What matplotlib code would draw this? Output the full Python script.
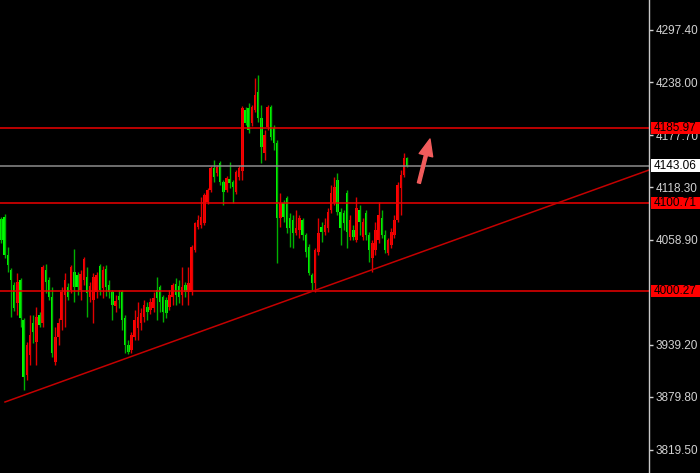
import numpy as np
import matplotlib
matplotlib.use("Agg")
import matplotlib.pyplot as plt
import matplotlib.transforms as mtransforms
from matplotlib.patches import Rectangle

# OHLC (red = up bar, green = down bar)
opens = [4082.3, 4084.6, 4041.3, 4024.2, 4007.2, 3986.7, 4012.9, 3967.3, 3904.7, 3927.5,
         3963.9, 3942.3, 3973.0, 3963.9, 4024.2, 4012.9, 3993.5, 3919.5, 3948.0, 3967.3,
         3995.8, 4004.9, 4001.5, 4022.0, 4018.5, 4001.5, 4012.9, 4016.3, 3993.5, 3990.1,
         3999.2, 4028.8, 4003.8, 4025.4, 4007.2, 3999.2, 3983.3, 3994.7, 3999.2, 3969.6,
         3938.9, 3933.2, 3948.0, 3958.2, 3963.9, 3970.8, 3982.1, 3978.7, 3981.0, 4001.5,
         4004.9, 3993.5, 3990.1, 3982.1, 3993.5, 4008.3, 4006.0, 3995.8, 4007.2, 3999.2,
         3999.2, 4047.0, 4073.2, 4075.4, 4077.7, 4101.6, 4115.3, 4140.3, 4134.6, 4146.0,
         4124.4, 4115.3, 4127.8, 4124.4, 4113.0, 4130.1, 4136.9, 4206.3, 4208.6, 4191.5,
         4206.3, 4226.8, 4197.2, 4157.4, 4187.0, 4209.7, 4185.8, 4168.8, 4083.4, 4100.5,
         4106.2, 4083.4, 4081.1, 4066.3, 4069.8, 4081.1, 4064.1, 4050.4, 4018.5, 4009.4,
         4044.7, 4073.2, 4067.5, 4072.0, 4092.5, 4100.5, 4126.7, 4090.2, 4089.1, 4111.9,
         4061.8, 4069.8, 4058.4, 4092.5, 4061.8, 4089.1, 4064.1, 4037.9, 4047.0, 4058.4,
         4083.4, 4064.1, 4043.6, 4052.7, 4064.1, 4081.1, 4117.6, 4132.3, 4151.7]
highs = [4084.6, 4088.0, 4050.4, 4026.5, 4010.6, 4020.8, 4015.1, 3969.6, 3942.3, 3973.0,
         3973.0, 3982.1, 3976.4, 4029.9, 4031.1, 4016.3, 4004.9, 3959.4, 3969.6, 4004.9,
         4020.8, 4009.4, 4029.9, 4048.1, 4022.0, 4024.2, 4039.0, 4027.7, 4010.6, 4020.8,
         4022.0, 4031.1, 4028.8, 4029.9, 4012.9, 4001.5, 3995.8, 4001.5, 4001.5, 3973.0,
         3944.6, 3953.7, 3978.7, 3987.8, 3981.0, 3990.1, 3987.8, 3992.4, 3999.2, 4016.3,
         4007.2, 3995.8, 3993.5, 4001.5, 4009.4, 4015.1, 4012.9, 4027.7, 4010.6, 4027.7,
         4052.7, 4078.9, 4086.8, 4107.3, 4111.9, 4117.6, 4142.6, 4149.4, 4143.7, 4148.3,
         4126.7, 4131.2, 4147.1, 4126.7, 4138.0, 4143.7, 4210.9, 4209.7, 4214.3, 4212.0,
         4242.7, 4246.1, 4212.0, 4183.6, 4212.0, 4212.0, 4189.2, 4172.2, 4111.9, 4103.9,
         4108.5, 4089.1, 4086.8, 4092.5, 4086.8, 4083.4, 4066.3, 4053.8, 4020.8, 4049.3,
         4083.4, 4078.9, 4083.4, 4094.8, 4121.0, 4130.1, 4134.6, 4094.8, 4092.5, 4115.3,
         4086.8, 4075.4, 4107.3, 4098.2, 4083.4, 4092.5, 4067.5, 4058.4, 4078.9, 4101.6,
         4092.5, 4069.8, 4060.7, 4072.0, 4086.8, 4124.4, 4138.0, 4157.4, 4152.8]
lows = [4055.0, 4037.9, 4022.0, 3970.8, 3977.6, 3973.0, 3959.4, 3887.7, 3899.1, 3916.1,
        3941.2, 3916.1, 3959.4, 3959.4, 3998.1, 3990.1, 3925.2, 3916.1, 3938.9, 3956.0,
        3959.4, 3990.1, 3998.1, 3987.8, 3995.8, 3990.1, 4007.2, 3970.8, 3987.8, 3963.9,
        3992.4, 3995.8, 3992.4, 3994.7, 3992.4, 3967.3, 3976.4, 3981.0, 3956.0, 3929.8,
        3928.6, 3929.8, 3944.6, 3944.6, 3956.0, 3965.1, 3967.3, 3974.2, 3976.4, 3967.3,
        3976.4, 3965.1, 3969.6, 3978.7, 3984.4, 3984.4, 3986.7, 3984.4, 3993.5, 3984.4,
        3995.8, 4044.7, 4070.9, 4072.0, 4075.4, 4099.3, 4113.0, 4124.4, 4131.2, 4121.0,
        4098.2, 4113.0, 4117.6, 4100.5, 4110.7, 4126.7, 4126.7, 4189.2, 4180.1, 4188.1,
        4204.0, 4192.7, 4146.0, 4149.4, 4183.6, 4172.2, 4160.8, 4032.2, 4073.2, 4078.9,
        4066.3, 4050.4, 4049.3, 4064.1, 4060.7, 4058.4, 4039.0, 4018.5, 4001.5, 3999.2,
        4041.3, 4056.1, 4064.1, 4067.5, 4089.1, 4098.2, 4086.8, 4052.7, 4069.8, 4049.3,
        4058.4, 4058.4, 4056.1, 4064.1, 4058.4, 4058.4, 4033.3, 4022.0, 4041.3, 4055.0,
        4060.7, 4043.6, 4041.3, 4049.3, 4060.7, 4078.9, 4086.8, 4130.1, 4141.5]
closes = [4058.4, 4041.3, 4029.9, 4012.9, 3981.0, 4010.6, 3969.6, 3902.5, 3938.9, 3950.3,
          3953.7, 3970.8, 3961.6, 4027.7, 4010.6, 3993.5, 3929.8, 3948.0, 3963.9, 3999.2,
          4012.9, 3993.5, 4027.7, 4004.9, 4004.9, 4019.7, 4036.8, 3998.1, 4006.0, 4016.3,
          4018.5, 4001.5, 4024.2, 4004.9, 3999.2, 3984.4, 3989.0, 3990.1, 3967.3, 3938.9,
          3930.9, 3950.3, 3967.3, 3970.8, 3975.3, 3984.4, 3976.4, 3987.8, 3992.4, 3992.4,
          3987.8, 3976.4, 3975.3, 3995.8, 4007.2, 3995.8, 3993.5, 4004.9, 3999.2, 4009.4,
          4050.4, 4077.7, 4081.1, 4084.6, 4109.6, 4115.3, 4140.3, 4130.1, 4141.5, 4124.4,
          4113.0, 4128.9, 4123.2, 4118.7, 4135.8, 4140.3, 4208.6, 4191.5, 4183.6, 4209.7,
          4223.4, 4197.2, 4164.2, 4177.9, 4209.7, 4175.6, 4168.8, 4083.4, 4100.5, 4084.6,
          4072.0, 4072.0, 4066.3, 4072.0, 4083.4, 4064.1, 4044.7, 4020.8, 4009.4, 4047.0,
          4066.3, 4067.5, 4075.4, 4090.2, 4111.9, 4118.7, 4090.2, 4072.0, 4077.7, 4067.5,
          4081.1, 4061.8, 4094.8, 4078.9, 4078.9, 4064.1, 4047.0, 4055.0, 4069.8, 4086.8,
          4064.1, 4047.0, 4058.4, 4067.5, 4081.1, 4121.0, 4132.3, 4151.7, 4143.06]

# levels drawn on the chart
red_levels = [4185.97, 4100.71, 4000.27]
last_price = 4143.06
# trendline: two points (bar index, price)
trend_x = [1.1, 204.3]
trend_y = [3874.0, 4138.0]
# arrow (bar index, price)
arrow_from = (131.7, 4123.2)
arrow_to = (135.2, 4173.3)
# price scale ticks (3999.50 is hidden under the 4000.27 box in the original)
tick_vals = [4297.40, 4238.00, 4177.70, 4118.30, 4058.90, 3939.20, 3879.80, 3819.50]

o = np.array(opens)
h = np.array(highs)
l = np.array(lows)
c = np.array(closes)
x = np.arange(len(c))
up = c >= o

fig = plt.figure(figsize=(7, 4.73), dpi=100, facecolor="black")
ax = fig.add_axes([0, 0, 649 / 700, 1])
ax.set_facecolor("black")

# wicks
ax.vlines(x[up], l[up], h[up], color="#e00000", lw=1)
ax.vlines(x[~up], l[~up], h[~up], color="#00b000", lw=1)
# bodies
body = np.maximum(np.abs(c - o), 0.8)
ax.bar(x[up], body[up], bottom=np.minimum(o, c)[up], width=0.78, color="#ff0000", lw=0)
ax.bar(x[~up], body[~up], bottom=np.minimum(o, c)[~up], width=0.78, color="#00ff00", lw=0)

for lev in red_levels:
    ax.axhline(lev, color="#ee0000", lw=1.1)
ax.axhline(last_price, color="#8c8c8c", lw=1.1)

# trendline
ax.plot(trend_x, trend_y, color="#c40000", lw=1.1)

ax.annotate("", xy=arrow_to, xytext=arrow_from,
            arrowprops=dict(facecolor="#f25c5c", edgecolor="#f25c5c",
                            width=2.2, headwidth=10, headlength=12, shrink=0))

ax.set_xlim(-0.47, 204.3)
ax.set_ylim(3793.2, 4331.5)

# right price scale
for s in ["left", "top", "bottom"]:
    ax.spines[s].set_visible(False)
ax.spines["right"].set_color("#c8c8c8")
ax.spines["right"].set_linewidth(1)
ax.set_xticks([])
ax.yaxis.tick_right()
ax.set_yticks(tick_vals)
ax.set_yticklabels(["%.2f" % v for v in tick_vals])
ax.tick_params(axis="y", colors="#d2d2d2", length=3, width=1, pad=2,
               labelsize=8.5, labelfontfamily="Liberation Sans")

# boxed price labels, drawn at figure level so they sit over the tick labels
trans = mtransforms.blended_transform_factory(fig.transFigure, ax.transData)
half = 6.2 * (4331.5 - 3793.2) / 473  # about 6 px in price units
boxes = [(lev, "#ff0000") for lev in red_levels] + [(last_price, "white")]
for lev, fc in boxes:
    fig.add_artist(Rectangle((651 / 700, lev - half), 49 / 700, 2 * half,
                             transform=trans, fc=fc, ec="none", zorder=5))
    fig.text(654 / 700, lev, "%.2f" % lev, transform=trans, ha="left", va="center",
             fontsize=8.5, family="Liberation Sans", color="black", zorder=6)

fig.savefig("out.png", dpi=100, facecolor="black")
